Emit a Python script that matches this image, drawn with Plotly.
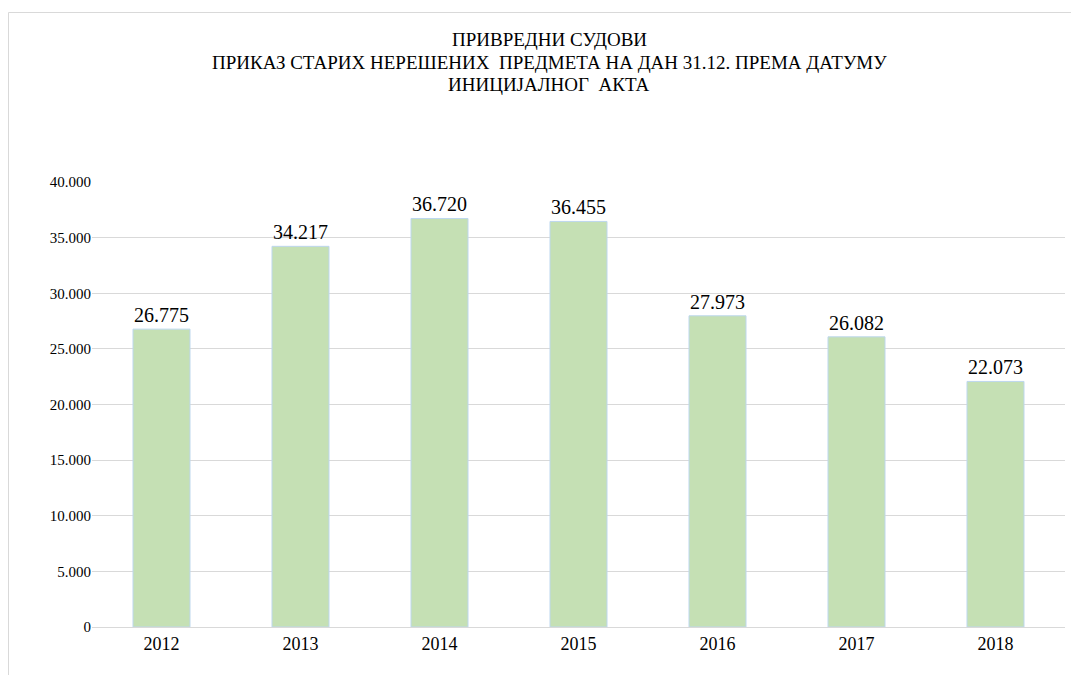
import plotly.graph_objects as go

years = ["2012", "2013", "2014", "2015", "2016", "2017", "2018"]
values = [26775, 34217, 36720, 36455, 27973, 26082, 22073]
y_ticks = [0, 5000, 10000, 15000, 20000, 25000, 30000, 35000, 40000]

title_lines = ["ПРИВРЕДНИ СУДОВИ",
               "ПРИКАЗ СТАРИХ НЕРЕШЕНИХ  ПРЕДМЕТА НА ДАН 31.12. ПРЕМА ДАТУМУ",
               "ИНИЦИЈАЛНОГ  АКТА"]

FONT = "Liberation Serif"

# page body has 8px default margin; work in screen pixels
OFF = 8
W, H = 1079 - OFF, 675 - OFF
L, T = 92 - OFF, 182 - OFF
R = W - (1065 - OFF)
B = H - (627 - OFF)
pw, ph = W - L - R, H - T - B

def px(xs):
    return (xs - OFF - L) / pw

def py(ys):
    return (H - B - (ys - OFF)) / ph

fig = go.Figure()
fig.add_trace(go.Bar(
    x=years, y=values, width=0.41,
    marker=dict(color="#C5E0B4", line=dict(color="#BDD7EE", width=1)),
    texttemplate="%{y:,d}", textposition="outside",
    textfont=dict(family=FONT, size=20, color="#000000"),
    cliponaxis=False,
))

annotations = []
for i, line in enumerate(title_lines):
    annotations.append(dict(text=line, xref="paper", yref="paper",
                            x=px(549), y=py(39 + 23 * i), xanchor="center", yanchor="middle",
                            showarrow=False,
                            font=dict(family=FONT, size=19, color="#000000")))

fig.update_layout(
    width=W, height=H,
    margin=dict(l=L, r=R, t=T, b=B, autoexpand=False),
    paper_bgcolor="white", plot_bgcolor="white",
    separators=",.",
    showlegend=False,
    font=dict(family=FONT, size=15, color="#000000"),
    xaxis=dict(showgrid=False, ticks="", showline=True, linecolor="#D9D9D9", linewidth=1,
               tickfont=dict(family=FONT, size=18, color="#000000")),
    yaxis=dict(range=[0, 40000], tickvals=y_ticks, tickformat=",d", showgrid=True,
               gridcolor="#D9D9D9", gridwidth=1, zeroline=False, ticks="",
               tickfont=dict(family=FONT, size=15, color="#000000")),
    annotations=annotations,
    shapes=[
        dict(type="line", xref="paper", yref="paper", x0=px(8.5), x1=px(8.5), y0=py(12.5), y1=py(690),
             line=dict(color="#D9D9D9", width=1)),
        dict(type="line", xref="paper", yref="paper", x0=px(8.5), x1=px(1090), y0=py(12.5), y1=py(12.5),
             line=dict(color="#D9D9D9", width=1)),
    ],
)

fig.write_html("out.html")
